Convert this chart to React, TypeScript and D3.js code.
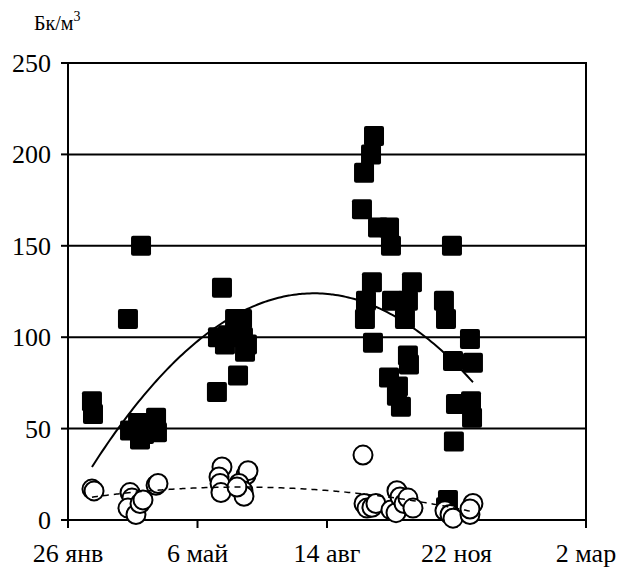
import React from 'react';
import * as d3 from 'd3';

// x values are days counted from 26 Jan
const xTickValues = [0, 100, 200, 300, 400];
const xTickLabels = ['26 янв', '6 май', '14 авг', '22 ноя', '2 мар'];
const yTickValues = [0, 50, 100, 150, 200, 250];

const squareDays = [
  18.5, 19.3, 46.3, 56.4, 47.9, 54.1, 55.6, 58.7, 63.3, 68, 68.7,
  115, 115.8, 118.9, 121.2, 123.6, 129, 131.3, 134.4, 135.1, 136.7, 138.2,
  228.6, 234, 236.3, 227, 239.4, 247.9, 249.4, 234.7, 265.6, 230.1, 229.3, 250.2, 262.5, 260.2,
  235.5, 262.5, 263.3, 247.9, 254.8, 254, 257.1,
  296.5, 290.3, 291.9, 310.4, 297.3, 312.7, 299.6, 311.2, 312, 298, 293.4, 291.9,
];
const squareValues = [
  65, 58, 110, 150, 49, 53, 44, 47, 52, 56, 48,
  70, 100, 127, 96, 101, 110, 79, 110, 100, 92, 96,
  190, 200, 210, 170, 160, 160, 150, 130, 130, 120, 110, 120, 120, 110,
  97, 90, 85, 78, 73, 68, 62,
  150, 120, 110, 99, 87, 86, 63.5, 65, 56, 43, 11, 7,
];

const circleDays = [
  18.5, 20.1,
  68, 69.5, 47.9, 49.4, 46.3, 52.5, 55.6, 57.9,
  118.9, 116.6, 117.4, 118.1, 137.5, 139, 132, 135.1, 135.9, 130.5,
  227.8, 228.6, 230.9, 234.7, 237.8, 249.4, 253.3, 254, 256.4, 259.5, 262.5, 266.4,
  291.1, 295, 297.3, 310.4, 312.7, 310.4,
];
const circleValues = [
  16.9, 15.9,
  19, 20, 15, 12, 6.5, 3, 9, 11,
  29, 23.5, 20, 15, 24.6, 27, 20, 16, 13, 18,
  35.5, 9, 6.5, 7, 9, 5.5, 4, 16, 12.6, 9, 12, 6.5,
  5, 3, 1, 3, 9, 6,
];

// polynomial (2nd order) trendlines: a + b*d + c*d^2
const squareTrendCoef = [7.4, 1.2274, -0.00323];
const circleTrendCoef = [10.57, 0.1119, -0.00042];
const trendRange = [18.5, 312.7];

const W = 617;
const H = 573;
const left = 68;
const right = 586;
const top = 63;
const bottom = 520;
const font = "'Liberation Serif', 'Times New Roman', serif";

export default function App() {
  const x = d3.scaleLinear().domain([0, 400]).range([left, right]);
  const y = d3.scaleLinear().domain([0, 250]).range([bottom, top]);

  const trendPts = (coef: number[]) =>
    d3.range(trendRange[0], trendRange[1] + 0.01, 2).concat([trendRange[1]]).map((d) => [
      d,
      coef[0] + coef[1] * d + coef[2] * d * d,
    ]);
  const line = d3
    .line<number[]>()
    .x((p) => x(p[0]))
    .y((p) => y(p[1]))
    .curve(d3.curveMonotoneX);

  const sq = 20;
  return (
    <svg
      width={W}
      height={H}
      style={{ position: 'absolute', left: 0, top: 0, background: '#fff' }}
    >
      <rect x={0} y={0} width={W} height={H} fill="#fff" />
      {/* gridlines */}
      {yTickValues.slice(1).map((v) => (
        <line key={'g' + v} x1={left} x2={right} y1={y(v)} y2={y(v)} stroke="#000" strokeWidth={2} />
      ))}
      {/* right border */}
      <line x1={right} x2={right} y1={top - 1} y2={bottom} stroke="#000" strokeWidth={2} />
      {/* axes */}
      <line x1={left} x2={left} y1={top - 1} y2={bottom + 1} stroke="#000" strokeWidth={2} />
      <line x1={left - 1} x2={right + 1} y1={bottom} y2={bottom} stroke="#000" strokeWidth={2} />
      {yTickValues.map((v) => (
        <g key={'yt' + v}>
          <line x1={left - 7} x2={left} y1={y(v)} y2={y(v)} stroke="#000" strokeWidth={2} />
          <text
            x={51}
            y={y(v) + 9}
            textAnchor="end"
            fontFamily={font}
            fontSize={26}
            fill="#000"
          >
            {v}
          </text>
        </g>
      ))}
      {xTickValues.map((v, i) => (
        <g key={'xt' + v}>
          <line x1={x(v)} x2={x(v)} y1={bottom} y2={bottom + 8} stroke="#000" strokeWidth={2} />
          <text
            x={x(v)}
            y={562}
            textAnchor="middle"
            fontFamily={font}
            fontSize={26}
            fill="#000"
          >
            {xTickLabels[i]}
          </text>
        </g>
      ))}
      {/* unit */}
      <text x={34} y={30} fontFamily={font} fontSize={20} fill="#000">
        Бк/м
        <tspan dy={-9} fontSize={14}>
          3
        </tspan>
      </text>
      {/* squares */}
      {squareDays.map((d, i) => (
        <rect
          key={'s' + i}
          x={x(d) - sq / 2}
          y={y(squareValues[i]) - sq / 2}
          width={sq}
          height={sq}
          rx={2}
          fill="#000"
        />
      ))}
      {/* circles */}
      {circleDays.map((d, i) => (
        <circle
          key={'c' + i}
          cx={x(d)}
          cy={y(circleValues[i])}
          r={9.5}
          fill="#fff"
          stroke="#000"
          strokeWidth={2}
        />
      ))}
      {/* trendlines */}
      <path d={line(trendPts(squareTrendCoef)) || ''} fill="none" stroke="#000" strokeWidth={2} />
      <path
        d={line(trendPts(circleTrendCoef)) || ''}
        fill="none"
        stroke="#000"
        strokeWidth={1.5}
        strokeDasharray="6,5"
      />
    </svg>
  );
}
